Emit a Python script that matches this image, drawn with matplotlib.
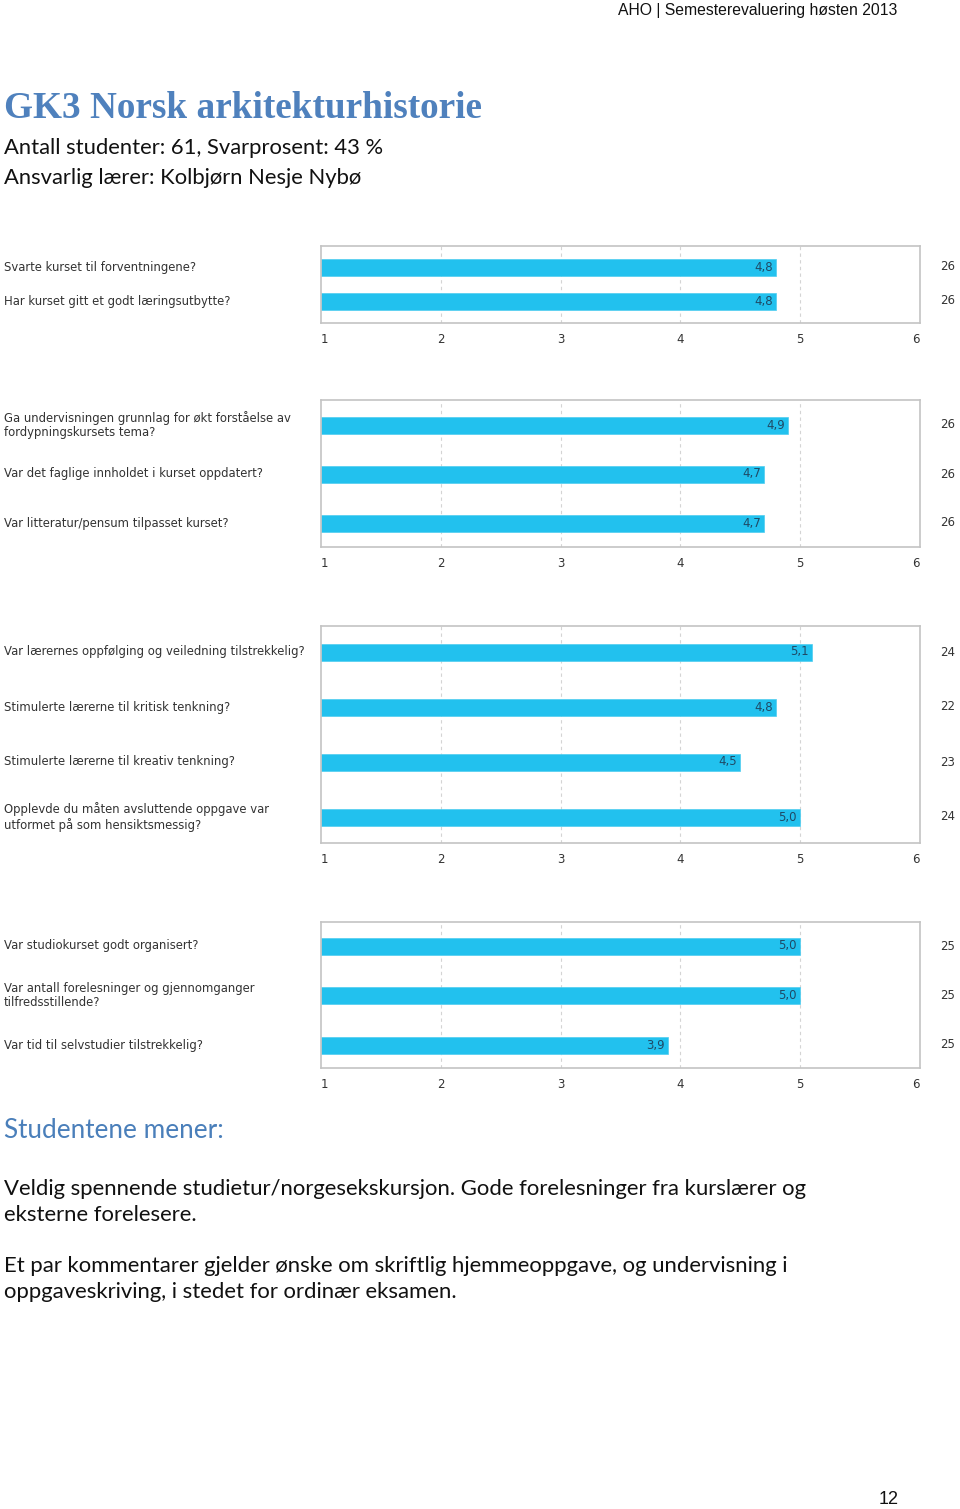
import matplotlib.pyplot as plt

W, H = 960, 1509

q1 = ["Svarte kurset til forventningene?",
      "Har kurset gitt et godt læringsutbytte?"]
v1 = [4.8, 4.8]
n1 = [26, 26]

q2 = ["Ga undervisningen grunnlag for økt forståelse av\nfordypningskursets tema?",
      "Var det faglige innholdet i kurset oppdatert?",
      "Var litteratur/pensum tilpasset kurset?"]
v2 = [4.9, 4.7, 4.7]
n2 = [26, 26, 26]

q3 = ["Var lærernes oppfølging og veiledning tilstrekkelig?",
      "Stimulerte lærerne til kritisk tenkning?",
      "Stimulerte lærerne til kreativ tenkning?",
      "Opplevde du måten avsluttende oppgave var\nutformet på som hensiktsmessig?"]
v3 = [5.1, 4.8, 4.5, 5.0]
n3 = [24, 22, 23, 24]

q4 = ["Var studiokurset godt organisert?",
      "Var antall forelesninger og gjennomganger\ntilfredsstillende?",
      "Var tid til selvstudier tilstrekkelig?"]
v4 = [5.0, 5.0, 3.9]
n4 = [25, 25, 25]

ticks = [1, 2, 3, 4, 5, 6]

BAR = '#22c1ee'
FRAME = '#c4c4c4'
TXT = '#333333'

fig = plt.figure(figsize=(W / 100, H / 100), dpi=100)


def chart(top, bottom, first, step, questions, values, counts):
    ax = fig.add_axes([321 / W, 1 - bottom / H, (920 - 321) / W, (bottom - top) / H])
    n = len(values)
    pad_top = (first - top) / step
    pad_bot = (bottom - (first + step * (n - 1))) / step
    ypos = list(range(n))
    ax.barh(ypos, [v - 1 for v in values], left=1, height=17 / step, color=BAR,
            edgecolor='#4fcdf0', linewidth=0.5, zorder=2)
    ax.set_xlim(1, 6)
    ax.set_ylim(n - 1 + pad_bot, -pad_top)
    ax.set_xticks(ticks)
    ax.set_xticklabels([str(t) for t in ticks], fontsize=8.5, color=TXT)
    ax.tick_params(axis='x', length=0, pad=7)
    labels = ax.get_xticklabels()
    labels[0].set_ha('left')
    labels[-1].set_ha('right')
    ax.set_yticks([])
    for x in [2, 3, 4, 5]:
        ax.axvline(x, color='#d4d4d4', lw=0.8, ls=(0, (3, 3)), zorder=1)
    for s in ax.spines.values():
        s.set_color(FRAME)
        s.set_linewidth(1.2)
    for y, v, c, q in zip(ypos, values, counts, questions):
        ax.text(v - 0.03, y, f"{v:.1f}".replace('.', ','), ha='right', va='center',
                fontsize=8.5, color='#1f4a66', zorder=3)
        yy = 1 - (first + step * y) / H
        fig.text(4 / W, yy, q, ha='left', va='center',
                 fontsize=8.4, color=TXT, linespacing=1.1)
        fig.text(948 / W, yy, str(c), ha='center', va='center',
                 fontsize=8.5, color=TXT)
    return ax


chart(246, 323, 267, 34, q1, v1, n1)
chart(400, 547, 425, 49, q2, v2, n2)
chart(626, 843, 652, 55, q3, v3, n3)
chart(922, 1068, 946, 49.5, q4, v4, n4)

# page texts
fig.text(897 / W, 1 - 10 / H, "AHO | Semesterevaluering høsten 2013", ha='right', va='center',
         fontsize=11.3, family=['Liberation Sans Narrow', 'Liberation Sans'], color='#111111')
fig.text(4 / W, 1 - 109 / H, "GK3 Norsk arkitekturhistorie", ha='left', va='center',
         fontsize=26.8, fontweight='bold', family=['Liberation Serif'], color='#4f81bd')
fig.text(4 / W, 1 - 148 / H, "Antall studenter: 61, Svarprosent: 43 %", ha='left', va='center',
         fontsize=15.8, family=['Lato'], color='#111111')
fig.text(4 / W, 1 - 178 / H, "Ansvarlig lærer: Kolbjørn Nesje Nybø", ha='left', va='center',
         fontsize=15.8, family=['Lato'], color='#111111')
fig.text(4 / W, 1 - 1131 / H, "Studentene mener:", ha='left', va='center',
         fontsize=18.8, family=['Lato'], color='#4a7fba')
fig.text(4 / W, 1 - 1202 / H,
         "Veldig spennende studietur/norgesekskursjon. Gode forelesninger fra kurslærer og\neksterne forelesere.",
         ha='left', va='center', fontsize=15.9, family=['Lato'], color='#111111', linespacing=1.32)
fig.text(4 / W, 1 - 1279 / H,
         "Et par kommentarer gjelder ønske om skriftlig hjemmeoppgave, og undervisning i\noppgaveskriving, i stedet for ordinær eksamen.",
         ha='left', va='center', fontsize=15.9, family=['Lato'], color='#111111', linespacing=1.32)
fig.text(889 / W, 1 - 1500 / H, "12", ha='center', va='center', fontsize=13,
         family=['Liberation Sans'], color='#111111')

fig.savefig('out.png', dpi=100, facecolor='white')
